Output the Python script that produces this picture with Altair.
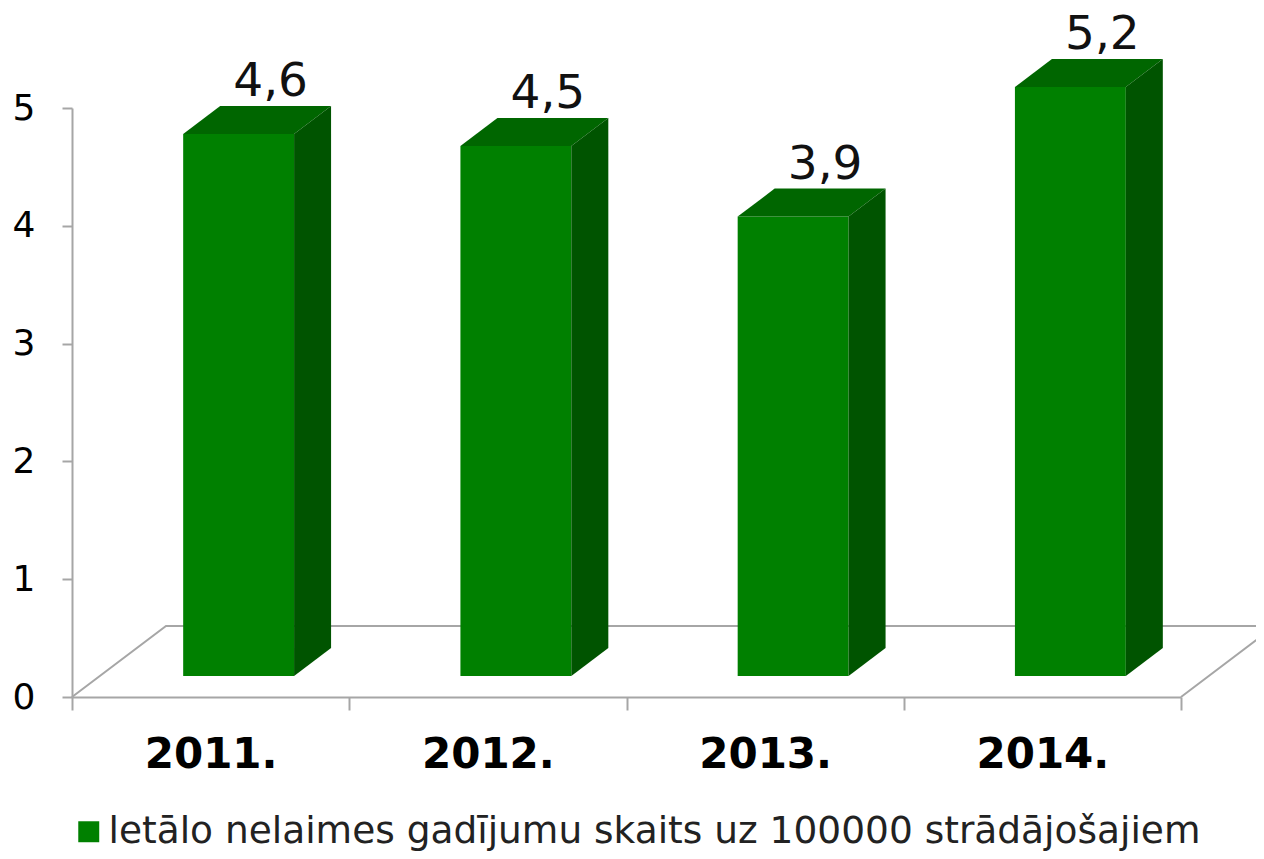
import altair as alt
import pandas as pd

# ---- data ----
years = ["2011.", "2012.", "2013.", "2014."]
values = [4.6, 4.5, 3.9, 5.2]
series_name = "letālo nelaimes gadījumu skaits uz 100000 strādājošajiem"
y_ticks = [0, 1, 2, 3, 4, 5]

# ---- style / geometry constants ----
FONT = "DejaVu Sans"
FRONT = "#008000"
TOP = "#006600"
SIDE = "#005400"
GRAY = "#a6a6a6"
W, H = 1109, 589
XMAX, YMAX = len(years), 5
ux, uy = XMAX / W, YMAX / H           # data units per pixel
FLOOR_DX, FLOOR_DY = 94 * ux, 71 * uy
FRONT_DX, FRONT_DY = 28 * ux, 21 * uy
DEPTH_DX, DEPTH_DY = 37 * ux, 28 * uy
GAP = 0.3

front_rows, top_rows, side_rows = [], [], []
for i, (yr, v) in enumerate(zip(years, values)):
    hv = min(v, YMAX)                  # bars are clipped at the axis maximum
    x0 = i + GAP + FRONT_DX
    x1 = i + 1 - GAP + FRONT_DX
    yb = FRONT_DY
    yt = hv + FRONT_DY
    front_rows.append({"bar": yr, "x0": x0, "x1": x1, "yb": yb, "yt": yt,
                       "xc": (x0 + x1) / 2, "label": f"{v:.1f}".replace(".", ","),
                       "series": series_name})
    top_rows += [{"bar": yr, "y": yt, "xa": x0, "xb": x1},
                 {"bar": yr, "y": yt + DEPTH_DY, "xa": x0 + DEPTH_DX, "xb": x1 + DEPTH_DX}]
    side_rows += [{"bar": yr, "x": x1, "ya": yb, "yb": yt},
                  {"bar": yr, "x": x1 + DEPTH_DX, "ya": yb + DEPTH_DY, "yb": yt + DEPTH_DY}]

floor_rows = [{"o": 0, "x": 0, "y": 0},
              {"o": 1, "x": FLOOR_DX, "y": FLOOR_DY},
              {"o": 2, "x": XMAX + FLOOR_DX, "y": FLOOR_DY},
              {"o": 3, "x": XMAX, "y": 0}]

front_df = pd.DataFrame(front_rows)
top_df = pd.DataFrame(top_rows)
side_df = pd.DataFrame(side_rows)
floor_df = pd.DataFrame(floor_rows)

xs = alt.Scale(domain=[0, XMAX], nice=False, zero=False)
ys = alt.Scale(domain=[0, YMAX], nice=False, zero=False)

year_js = "[" + ",".join("'" + y + "'" for y in years) + "]"
x_axis = alt.Axis(
    title=None, grid=False,
    values=[k / 2 for k in range(2 * XMAX + 1)],
    labelExpr=f"datum.value % 1 == 0.5 ? {year_js}[floor(datum.value)] : ''",
    tickOpacity={"condition": {"test": "datum.value % 1 != 0", "value": 0}, "value": 1},
    tickSize=13, tickColor=GRAY, tickWidth=2,
    domainColor=GRAY, domainWidth=2,
    labelFont=FONT, labelFontSize=42, labelFontWeight="bold", labelColor="black",
    labelPadding=24, labelFlush=False, labelOverlap=False,
)
y_axis = alt.Axis(
    title=None, grid=False, values=y_ticks,
    tickSize=10, tickColor=GRAY, tickWidth=2,
    domainColor=GRAY, domainWidth=2,
    labelFont=FONT, labelFontSize=36, labelColor="black", labelPadding=27,
)

floor = alt.Chart(floor_df).mark_line(color=GRAY, strokeWidth=2).encode(
    x=alt.X("x:Q", scale=xs, axis=x_axis),
    y=alt.Y("y:Q", scale=ys, axis=y_axis),
    order="o:Q",
)

front = alt.Chart(front_df).mark_rect().encode(
    x=alt.X("x0:Q", scale=xs, axis=x_axis), x2="x1:Q",
    y=alt.Y("yb:Q", scale=ys, axis=y_axis), y2="yt:Q",
    color=alt.Color("series:N",
                    scale=alt.Scale(domain=[series_name], range=[FRONT]),
                    legend=alt.Legend(orient="none", legendX=-2, legendY=705,
                                      title=None, symbolType="square",
                                      symbolSize=440, symbolStrokeWidth=0,
                                      labelFont=FONT, labelFontSize=37.5,
                                      labelColor="#222222",
                                      labelLimit=0, labelOffset=1, padding=0)),
)

top = alt.Chart(top_df).mark_area(orient="horizontal", color=TOP).encode(
    y=alt.Y("y:Q", scale=ys, axis=y_axis),
    x=alt.X("xa:Q", scale=xs, axis=x_axis), x2="xb:Q",
    detail="bar:N",
)

side = alt.Chart(side_df).mark_area(orient="vertical", color=SIDE).encode(
    x=alt.X("x:Q", scale=xs, axis=x_axis),
    y=alt.Y("ya:Q", scale=ys, axis=y_axis), y2="yb:Q",
    detail="bar:N",
)

labels = alt.Chart(front_df).mark_text(
    font=FONT, fontSize=47, color="#111111", baseline="alphabetic",
    align="center", dx=32, dy=-38,
).encode(
    x=alt.X("xc:Q", scale=xs, axis=x_axis),
    y=alt.Y("yt:Q", scale=ys, axis=y_axis),
    text="label:N",
)

chart = alt.layer(floor, front, top, side, labels).properties(
    width=W, height=H,
    background="white",
    autosize=alt.AutoSizeParams(type="none"),
    padding={"left": 64, "top": 100, "right": 75, "bottom": 154},
).configure_view(stroke=None, strokeWidth=0)

chart.save("out.html", embed_options={"renderer": "svg", "actions": False})
